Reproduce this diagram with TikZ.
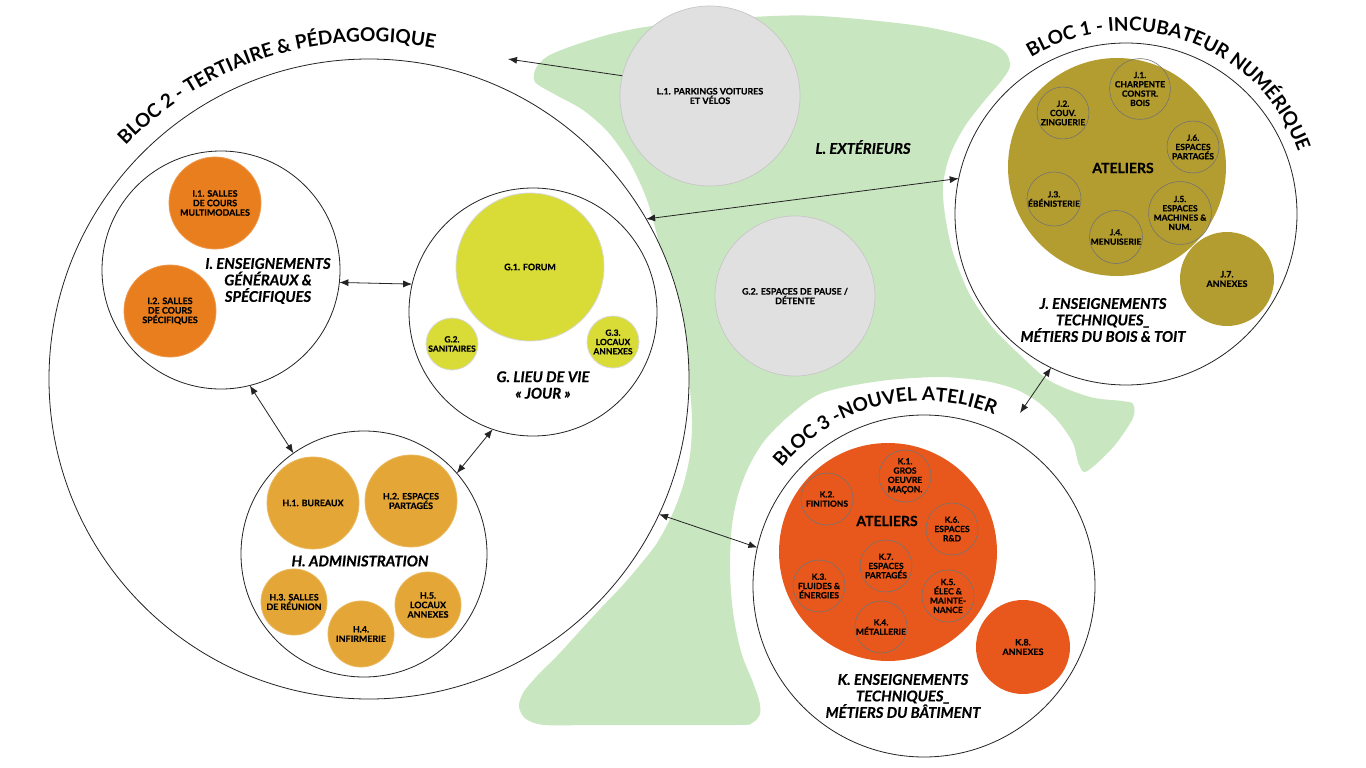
\documentclass[tikz,border=0pt]{standalone}
\usepackage{fontspec}
\setmainfont{Lato}[BoldFeatures={FakeBold=0.5}, BoldItalicFeatures={FakeBold=0.5}]
\newfontfamily\arcfont{Lato}
\usetikzlibrary{arrows.meta,decorations.text}

\definecolor{vert}{RGB}{200,230,191}
\definecolor{gris}{RGB}{224,224,224}
\definecolor{orI}{RGB}{233,126,30}
\definecolor{jauneG}{RGB}{217,220,55}
\definecolor{orH}{RGB}{228,166,55}
\definecolor{ocreJ}{RGB}{180,157,48}
\definecolor{rougeK}{RGB}{232,88,28}
\definecolor{trait}{RGB}{35,35,35}

\newcommand\mylbl{\fontsize{8.9}{9.5}\selectfont\bfseries}
\newcommand\mysml{\fontsize{8.5}{9.3}\selectfont\bfseries}
\newcommand\myttl{\fontsize{14.8}{16.5}\selectfont\bfseries\itshape}
\newcommand\myarc{\arcfont\fontsize{19}{19}\selectfont\bfseries}
\newcommand\myatl{\fontsize{14}{14}\selectfont\bfseries}

\tikzset{
  ring/.style={circle, draw=trait, line width=0.8pt, fill=white, inner sep=0pt, outer sep=0pt, minimum size=#1},
  disc/.style 2 args={circle, fill=#1, draw=#1!80!white, line width=0.8pt, inner sep=0pt, outer sep=0pt, minimum size=#2, align=center, font=\mylbl},
  greydisc/.style={circle, fill=gris, draw=black!22, line width=0.7pt, inner sep=0pt, outer sep=0pt, minimum size=#1, align=center, font=\mylbl},
  subc/.style={circle, draw=black!55, line width=0.6pt, inner sep=0pt, outer sep=0pt, minimum size=52pt, align=center, font=\mysml},
  ttl/.style={align=center, font=\myttl, inner sep=0pt},
  atl/.style={font=\myatl, inner sep=0pt},
  dbl/.style={{Latex[length=9pt,width=7pt]}-{Latex[length=9pt,width=7pt]}, line width=0.8pt, draw=trait},
  one/.style={-{Latex[length=9pt,width=7pt]}, line width=0.8pt, draw=trait},
}

\begin{document}
\begin{tikzpicture}[x=1pt,y=-1pt]
\useasboundingbox (0,0) rectangle (1366,768);
\fill[white] (0,0) rectangle (1366,768);

% green outdoor area
\fill[vert] plot[smooth cycle, tension=0.5] coordinates {
 (535,82) (536,68) (548,56) (575,45) (615,33) (660,25) (753,17) (820,16) (920,26) (985,41)
 (1005,52) (1010,66) (1002,80) (985,100) (965,126) (950,155) (943,185) (945,215) (953,253)
 (970,295) (993,328) (1020,355) (1050,381) (1090,397) (1122,401) (1133,404) (1133,418)
 (1115,445) (1095,465) (1084,472) (1078,462) (1073,443) (1058,421) (1038,402) (1015,389)
 (985,381) (940,377) (880,381) (822,393) (790,415) (765,440) (749,466) (738,495) (732,525)
 (730,560) (731,593) (735,625) (742,655) (752,680) (759,700) (760,714) (752,723) (735,725)
 (600,725) (545,725) (526,719) (519,707) (523,693) (537,676) (557,656) (579,632) (601,608)
 (622,586) (640,565) (657,543) (672,515) (683,486) (690,455) (692,420) (689,380) (683,343)
 (674,300) (661,250) (647,200) (630,163) (608,132) (583,110) (556,95)
};
\node[font=\myttl, inner sep=0pt] (lext) at (863,147) {L. EXTÉRIEURS};

% BLOC 2
\node[ring=640pt] (B2) at (369,379) {};
\path[decorate, decoration={text along path, text align=center,
  text={|\myarc|BLOC 2 - TERTIAIRE {\&} PÉDAGOGIQUE}}]
  (369,379) ++(-170:337) arc[start angle=-170, end angle=-45, radius=337];

% I
\node[ring=238pt] (I) at (221,270) {};
\node[disc={orI}{92pt}] (I1) at (215,203) {I.1. SALLES\\DE COURS\\MULTIMODALES};
\node[disc={orI}{92pt}] (I2) at (170,311) {I.2. SALLES\\DE COURS\\SPÉCIFIQUES};
\node[ttl] (Ittl) at (268,281) {I. ENSEIGNEMENTS\\GÉNÉRAUX \&\\SPÉCIFIQUES};

% G
\node[ring=248pt] (G) at (533,312) {};
\node[disc={jauneG}{148pt}, draw=black!15] (G1) at (530,267) {G.1. FORUM};
\node[disc={jauneG}{52pt}, draw=black!15, font=\mysml] (G2) at (452,344) {G.2.\\SANITAIRES};
\node[disc={jauneG}{52pt}, draw=black!15, font=\mysml] (G3) at (613,342) {G.3.\\LOCAUX\\ANNEXES};
\node[ttl] (Gttl) at (543,385) {G. LIEU DE VIE\\« JOUR »};

% H
\node[ring=246pt] (H) at (364,554) {};
\node[disc={orH}{92pt}] (H1) at (313,503) {H.1. BUREAUX};
\node[disc={orH}{92pt}] (H2) at (411,501) {H.2. ESPACES\\PARTAGÉS};
\node[disc={orH}{66pt}] (H3) at (294,602) {H.3. SALLES\\DE RÉUNION};
\node[disc={orH}{66pt}] (H4) at (361,634) {H.4.\\INFIRMERIE};
\node[disc={orH}{66pt}] (H5) at (428,605) {H.5.\\LOCAUX\\ANNEXES};
\node[ttl] (Httl) at (360,561) {H. ADMINISTRATION};

% BLOC 1
\node[ring=342pt] (B1) at (1126,214) {};
\path[decorate, decoration={text along path, text align=center,
  text={|\myarc|BLOC 1 - INCUBATEUR NUMÉRIQUE}}]
  (1126,214) ++(-142:183) arc[start angle=-142, end angle=1, radius=183];
\node[circle, fill=ocreJ, inner sep=0pt, outer sep=0pt, minimum size=218pt] (JA) at (1117,167) {};
\node[atl] (JAt) at (1123,168) {ATELIERS};
\node[subc, minimum size=50pt] (J1) at (1140,89) {J.1.\\CHARPENTE\\CONSTR.\\BOIS};
\node[subc] (J2) at (1063,113) {J.2.\\COUV.\\ZINGUERIE};
\node[subc] (J6) at (1193,147) {J.6.\\ESPACES\\PARTAGÉS};
\node[subc] (J3) at (1054,199) {J.3.\\ÉBÉNISTERIE};
\node[subc] (J5) at (1180,213) {J.5.\\ESPACES\\MACHINES \&\\NUM.};
\node[subc] (J4) at (1116,237) {J.4.\\MENUISERIE};
\node[disc={ocreJ}{94pt}, draw=none] (J7) at (1227,279) {J.7.\\ANNEXES};
\node[ttl] (Jttl) at (1103,320) {J. ENSEIGNEMENTS\\TECHNIQUES\_\\MÉTIERS DU BOIS \& TOIT};

% BLOC 3
\node[ring=342pt] (B3) at (924,586) {};
\path[decorate, decoration={text along path, text align=center,
  text={|\myarc|BLOC 3 -NOUVEL ATELIER}}]
  (924,586) ++(-174:185) arc[start angle=-174, end angle=-34, radius=185];
\node[circle, fill=rougeK, inner sep=0pt, outer sep=0pt, minimum size=218pt] (KA) at (888,552) {};
\node[atl] (KAt) at (887,521) {ATELIERS};
\node[subc] (K1) at (905,476) {K.1.\\GROS\\OEUVRE\\MAÇON.};
\node[subc] (K2) at (827,499) {K.2.\\FINITIONS};
\node[subc] (K6) at (952,529) {K.6.\\ESPACES\\R\&D};
\node[subc] (K7) at (886,566) {K.7.\\ESPACES\\PARTAGÉS};
\node[subc] (K3) at (819,586) {K.3.\\FLUIDES \&\\ÉNERGIES};
\node[subc] (K5) at (948,596) {K.5.\\ÉLEC \&\\MAINTE-\\NANCE};
\node[subc] (K4) at (881,627) {K.4.\\MÉTALLERIE};
\node[disc={rougeK}{94pt}, draw=none] (K8) at (1023,647) {K.8.\\ANNEXES};
\node[ttl] (Kttl) at (903,696) {K. ENSEIGNEMENTS\\TECHNIQUES\_\\MÉTIERS DU BÂTIMENT};

% exterior grey circles
\node[greydisc=180pt] (L1) at (710,96) {L.1. PARKINGS VOITURES\\ET VÉLOS};
\node[greydisc=160pt] (G2p) at (795,296) {G.2. ESPACES DE PAUSE /\\DÉTENTE};

% connectors
\coordinate (l1end) at (508,59);
\coordinate (b3top) at (1020,413);
\draw[one] (L1.167) -- (l1end);
\draw[dbl] (I.-6) -- (G.167);
\draw[dbl] (I.-76) -- (H.125);
\draw[dbl] (G.-109) -- (H.41);
\draw[dbl] (B2.30.4) -- (B1.168);
\draw[dbl] (B2.-25.8) -- (B3.167.3);
\draw[dbl] (B1.-116) -- (b3top);
\end{tikzpicture}
\end{document}
